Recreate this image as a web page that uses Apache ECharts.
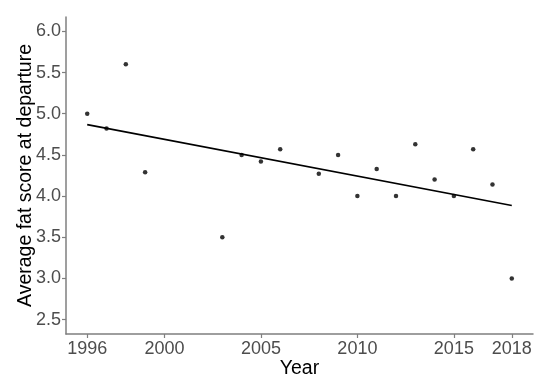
<!DOCTYPE html>
<html>
<head>
<meta charset="utf-8">
<script src="https://cdn.jsdelivr.net/npm/echarts@6/dist/echarts.min.js"></script>
<style>
html,body{margin:0;padding:0;background:#fff;}
#chart{width:550px;height:390px;}
</style>
</head>
<body>
<div id="chart"></div>
<script>
const years = [1996,1997,1998,1999,2003,2004,2005,2006,2008,2009,2010,2011,2012,2013,2014,2015,2016,2017,2018];
const fatScores = [5.0,4.82,5.6,4.29,3.5,4.5,4.42,4.57,4.27,4.5,4.0,4.33,4.0,4.63,4.2,4.0,4.57,4.14,3.0];
const xTickLabels = [1996,2000,2005,2010,2015,2018];
const yTickLabels = [2.5,3.0,3.5,4.0,4.5,5.0,5.5,6.0];

// least-squares fit from the data
const n = years.length;
const mx = years.reduce((a,b)=>a+b,0)/n;
const my = fatScores.reduce((a,b)=>a+b,0)/n;
let sxy = 0, sxx = 0;
for (let i=0;i<n;i++){ sxy += (years[i]-mx)*(fatScores[i]-my); sxx += (years[i]-mx)*(years[i]-mx); }
const slope = sxy/sxx, icpt = my - slope*mx;
const x0 = Math.min(...years), x1 = Math.max(...years);
const fitLine = [[x0, icpt+slope*x0],[x1, icpt+slope*x1]];

const points = years.map((y,i)=>[y,fatScores[i]]);

const xr = x1 - x0, yLo = 2.5, yHi = 6.0, yr = yHi - yLo;
const chart = echarts.init(document.getElementById('chart'));
const font = 'Liberation Sans, Arial, sans-serif';
chart.setOption({
  animation:false,
  backgroundColor:'#fff',
  grid:{left:66,right:17,top:17,bottom:56},
  xAxis:{
    type:'value', min:x0-0.05*xr, max:x1+0.05*xr,
    name:'Year', nameLocation:'middle', nameGap:25, nameMoveOverlap:false,
    nameTextStyle:{color:'#000',fontSize:19.5,fontFamily:font},
    axisLine:{show:true,lineStyle:{color:'#7f7f7f',width:1.5}},
    axisTick:{show:true,length:4,lineStyle:{color:'#7f7f7f',width:1.2},customValues:xTickLabels},
    axisLabel:{color:'#4d4d4d',fontSize:18,fontFamily:font,margin:6,customValues:xTickLabels,formatter:v=>String(v)},
    splitLine:{show:false}
  },
  yAxis:{
    type:'value', min:yLo-0.05*yr, max:yHi+0.05*yr,
    name:'Average fat score at departure', nameLocation:'middle', nameGap:30, nameMoveOverlap:false,
    nameTextStyle:{color:'#000',fontSize:19.5,fontFamily:font},
    axisLine:{show:true,lineStyle:{color:'#7f7f7f',width:1.5}},
    axisTick:{show:true,length:4,lineStyle:{color:'#7f7f7f',width:1.2},customValues:yTickLabels},
    axisLabel:{color:'#4d4d4d',fontSize:18,fontFamily:font,margin:5,customValues:yTickLabels,formatter:v=>v.toFixed(1)},
    splitLine:{show:false}
  },
  series:[
    {type:'line',data:fitLine,symbol:'none',lineStyle:{color:'#000',width:1.6},z:2},
    {type:'scatter',data:points,symbolSize:4.5,itemStyle:{color:'#000'},z:3}
  ]
});
</script>
</body>
</html>
